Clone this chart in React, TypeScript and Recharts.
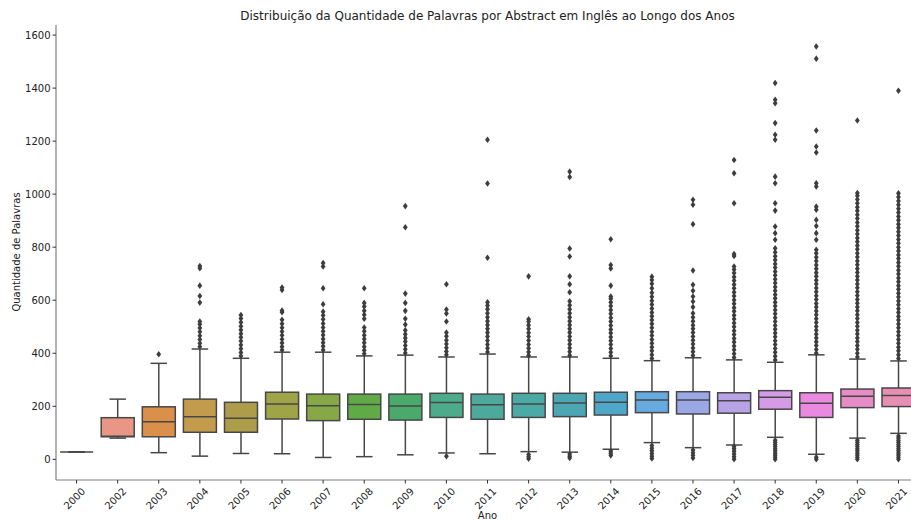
import React from 'react';
import { ComposedChart, Bar, Scatter, XAxis, YAxis } from 'recharts';

// anos no eixo x
const years = [
  '2000', '2002', '2003', '2004', '2005', '2006', '2007', '2008', '2009', '2010', '2011',
  '2012', '2013', '2014', '2015', '2016', '2017', '2018', '2019', '2020', '2021',
];

// estatísticas de cada caixa (palavras)
const whiskerLow = [28, 80, 25, 12, 22, 21, 7, 10, 17, 24, 21, 29, 27, 38, 63, 44, 54, 83, 19, 80, 98];
const q1s = [28, 85, 85, 102, 102, 152, 146, 151, 148, 158, 151, 158, 161, 167, 176, 171, 174, 189, 158, 195, 199];
const medians = [28, 87, 142, 161, 155, 209, 202, 207, 201, 214, 206, 209, 212, 215, 224, 224, 221, 234, 211, 238, 241];
const q3s = [28, 157, 198, 227, 215, 253, 246, 246, 246, 249, 246, 249, 249, 253, 255, 255, 251, 259, 251, 265, 269];
const whiskerHigh = [28, 227, 362, 416, 381, 404, 404, 390, 393, 386, 397, 386, 386, 381, 372, 383, 375, 366, 394, 378, 371];

// outliers por ano
const outliers: number[][] = [
  [], // 2000
  [], // 2002
  [396], // 2003
  [425, 438, 452, 466, 481, 495, 509, 520, 591, 616, 655, 721, 729], // 2004
  [390, 403, 417, 431, 446, 460, 474, 488, 502, 517, 531, 544], // 2005
  [412, 425, 439, 453, 468, 482, 496, 511, 526, 555, 561, 639, 648], // 2006
  [412, 426, 440, 454, 469, 483, 497, 512, 528, 543, 557, 585, 645, 727, 740], // 2007
  [398, 411, 425, 440, 454, 468, 483, 497, 530, 545, 560, 576, 590, 645], // 2008
  [401, 415, 429, 444, 458, 472, 487, 508, 530, 560, 590, 625, 875, 955], // 2009
  [12, 394, 407, 421, 435, 449, 464, 478, 520, 550, 565, 660], // 2010
  [405, 419, 433, 448, 463, 478, 492, 507, 521, 536, 551, 566, 580, 592, 760, 1040, 1205], // 2011
  [2, 10, 18, 392, 405, 419, 433, 448, 463, 477, 492, 506, 520, 528, 690], // 2012
  [5, 12, 20, 392, 406, 420, 434, 449, 463, 478, 492, 507, 521, 536, 551, 566, 581, 596, 630, 660, 690, 765, 795, 1065, 1085], // 2013
  [15, 23, 31, 390, 404, 418, 433, 447, 461, 476, 490, 505, 520, 534, 549, 563, 578, 592, 606, 614, 655, 720, 733, 830], // 2014
  [3, 12, 22, 32, 42, 52, 380, 394, 409, 423, 438, 452, 467, 481, 496, 511, 525, 540, 554, 569, 584, 598, 613, 628, 645, 662, 676, 689], // 2015
  [5, 15, 25, 35, 392, 406, 420, 435, 449, 463, 478, 492, 506, 521, 536, 551, 574, 595, 614, 636, 658, 712, 887, 960, 979], // 2016
  [0, 10, 20, 30, 40, 48, 384, 398, 413, 427, 442, 456, 471, 485, 500, 514, 529, 543, 558, 572, 587, 601, 616, 630, 645, 659, 674, 688, 703, 716, 727, 767, 774, 966, 1079, 1129], // 2017
  [0, 8, 16, 24, 32, 40, 48, 56, 64, 72, 375, 389, 404, 418, 433, 447, 462, 476, 491, 505, 520, 534, 549, 563, 578, 592, 607, 621, 636, 650, 665, 679, 694, 708, 723, 737, 752, 766, 781, 796, 828, 853, 878, 938, 966, 1041, 1066, 1205, 1224, 1268, 1343, 1356, 1419], // 2018
  [0, 8, 400, 414, 429, 443, 458, 472, 487, 501, 516, 530, 545, 559, 574, 588, 603, 617, 632, 646, 661, 675, 690, 704, 719, 733, 748, 762, 777, 790, 828, 853, 880, 903, 941, 953, 1029, 1041, 1157, 1180, 1240, 1511, 1557], // 2019
  [0, 8, 16, 24, 32, 40, 48, 56, 64, 72, 386, 400, 415, 429, 444, 458, 473, 487, 502, 516, 531, 545, 560, 574, 589, 603, 618, 632, 647, 661, 676, 690, 705, 719, 734, 748, 763, 777, 792, 806, 821, 835, 850, 864, 879, 893, 908, 922, 937, 951, 966, 980, 994, 1004, 1278], // 2020
  [0, 8, 16, 24, 32, 40, 48, 56, 64, 72, 80, 88, 380, 394, 409, 423, 438, 452, 467, 481, 496, 510, 525, 539, 554, 568, 583, 597, 612, 626, 641, 655, 670, 684, 699, 713, 728, 742, 757, 771, 786, 800, 815, 829, 844, 858, 873, 887, 902, 916, 931, 945, 960, 974, 989, 1003, 1390], // 2021
];

const yTicks = [0, 200, 400, 600, 800, 1000, 1200, 1400, 1600];

const palette = [
  '#e8898a', '#e99686', '#da8f4a', '#c39b4c', '#ad9c4a', '#9ea447', '#87a847',
  '#60ab47', '#4ba96c', '#4cab8a', '#4ca99c', '#4ba9a6', '#4ca6b4', '#4ea7c9',
  '#66aadf', '#9aa9e6', '#b8a3e7', '#d69be6', '#e98ae0', '#e88cc8', '#e78fb3',
];

const boxRows = years.map((year, i) => ({
  year,
  lo: whiskerLow[i],
  q1: q1s[i],
  med: medians[i],
  q3: q3s[i],
  hi: whiskerHigh[i],
}));
const outlierRows = years.flatMap((year, i) => outliers[i].map((out) => ({ year, out })));
const rows: any[] = [...boxRows, ...outlierRows];

const EDGE = '#474747';
const FONT = '"DejaVu Sans", sans-serif';

const Whisker = (props: any) => {
  const { x, y, width, height, payload } = props;
  if (payload?.q1 == null || !Number.isFinite(x) || !Number.isFinite(y)) return null;
  const cx = x + width / 2;
  const h = Number.isFinite(height) ? height : 0;
  return (
    <g stroke={EDGE} strokeWidth={1.5} fill="none">
      <line x1={cx} x2={cx} y1={y} y2={y + h} />
      <line x1={x + width / 4} x2={x + (3 * width) / 4} y1={y} y2={y} />
      <line x1={x + width / 4} x2={x + (3 * width) / 4} y1={y + h} y2={y + h} />
    </g>
  );
};

const Box = (props: any) => {
  const { x, y, width, height, payload, index } = props;
  if (payload?.q1 == null || !Number.isFinite(x) || !Number.isFinite(y)) return null;
  const h = Number.isFinite(height) ? height : 0;
  return (
    <rect x={x} y={y} width={width} height={h} fill={palette[index]} stroke={EDGE} strokeWidth={1.5} />
  );
};

const Median = (props: any) => {
  const { x, y, width, payload } = props;
  if (payload?.q1 == null || !Number.isFinite(x) || !Number.isFinite(y)) return null;
  return <line x1={x} x2={x + width} y1={y} y2={y} stroke={EDGE} strokeWidth={1.5} />;
};

const Diamond = (props: any) => {
  const { cx, cy, payload } = props;
  if (payload?.out == null || !Number.isFinite(cx) || !Number.isFinite(cy)) return null;
  return (
    <path
      d={`M${cx},${cy - 3.3}L${cx + 2.4},${cy}L${cx},${cy + 3.3}L${cx - 2.4},${cy}Z`}
      fill="#3d3d3d"
    />
  );
};

const YearTick = (props: any) => {
  const { x, y, payload } = props;
  return (
    <g transform={`translate(${x - 2},${y + 13})`}>
      <text
        transform="rotate(-45)"
        textAnchor="middle"
        dominantBaseline="central"
        fontSize={10}
        fontFamily={FONT}
        fill="#222"
      >
        {payload.value}
      </text>
    </g>
  );
};

export default function App() {
  return (
    <div
      style={{
        position: 'fixed',
        left: 0,
        top: 0,
        width: 911,
        height: 520,
        overflow: 'hidden',
        background: '#fff',
        fontFamily: FONT,
      }}
    >
      <div
        style={{
          position: 'absolute',
          left: 0,
          width: 975,
          top: 9,
          textAlign: 'center',
          fontSize: 12,
          color: '#222',
        }}
      >
        Distribuição da Quantidade de Palavras por Abstract em Inglês ao Longo dos Anos
      </div>
      <div
        style={{
          position: 'absolute',
          left: 16,
          top: 252,
          transform: 'translate(-50%, -50%) rotate(-90deg)',
          whiteSpace: 'nowrap',
          fontSize: 10,
          color: '#222',
        }}
      >
        Quantidade de Palavras
      </div>
      <div
        style={{
          position: 'absolute',
          left: 0,
          width: 975,
          top: 510,
          textAlign: 'center',
          fontSize: 10,
          color: '#222',
        }}
      >
        Ano
      </div>
      <ComposedChart
        width={930}
        height={520}
        data={rows}
        margin={{ top: 25, right: 11, bottom: 0, left: 0 }}
        barCategoryGap="10%"
        style={{ position: 'absolute', left: 0, top: 0 }}
      >
        <XAxis
          xAxisId="a"
          dataKey="year"
          allowDuplicatedCategory={false}
          interval={0}
          height={40}
          tickSize={3.5}
          tick={<YearTick />}
          tickLine={{ stroke: '#333' }}
          axisLine={{ stroke: '#808080', strokeWidth: 1.2 }}
        />
        <XAxis
          xAxisId="b"
          dataKey="year"
          allowDuplicatedCategory={false}
          orientation="top"
          height={0}
          tick={false}
          tickLine={false}
          axisLine={{ stroke: '#808080', strokeWidth: 1.2 }}
        />
        <XAxis xAxisId="c" dataKey="year" allowDuplicatedCategory={false} hide />
        <YAxis
          type="number"
          domain={[-78, 1638]}
          allowDataOverflow
          ticks={yTicks}
          width={56}
          tickSize={3.5}
          tickMargin={2}
          tick={{ fontSize: 10, fill: '#222', fontFamily: FONT }}
          tickLine={{ stroke: '#333' }}
          axisLine={{ stroke: '#808080', strokeWidth: 1.2 }}
        />
        <Bar
          xAxisId="a"
          dataKey={(d: any) => (d.q1 == null ? undefined : [d.lo, d.hi])}
          shape={<Whisker />}
          isAnimationActive={false}
        />
        <Bar
          xAxisId="b"
          dataKey={(d: any) => (d.q1 == null ? undefined : [d.q1, d.q3])}
          shape={<Box />}
          isAnimationActive={false}
        />
        <Bar
          xAxisId="c"
          dataKey={(d: any) => (d.q1 == null ? undefined : [d.med, d.med])}
          shape={<Median />}
          isAnimationActive={false}
        />
        <Scatter xAxisId="a" dataKey="out" shape={<Diamond />} isAnimationActive={false} />
      </ComposedChart>
    </div>
  );
}
